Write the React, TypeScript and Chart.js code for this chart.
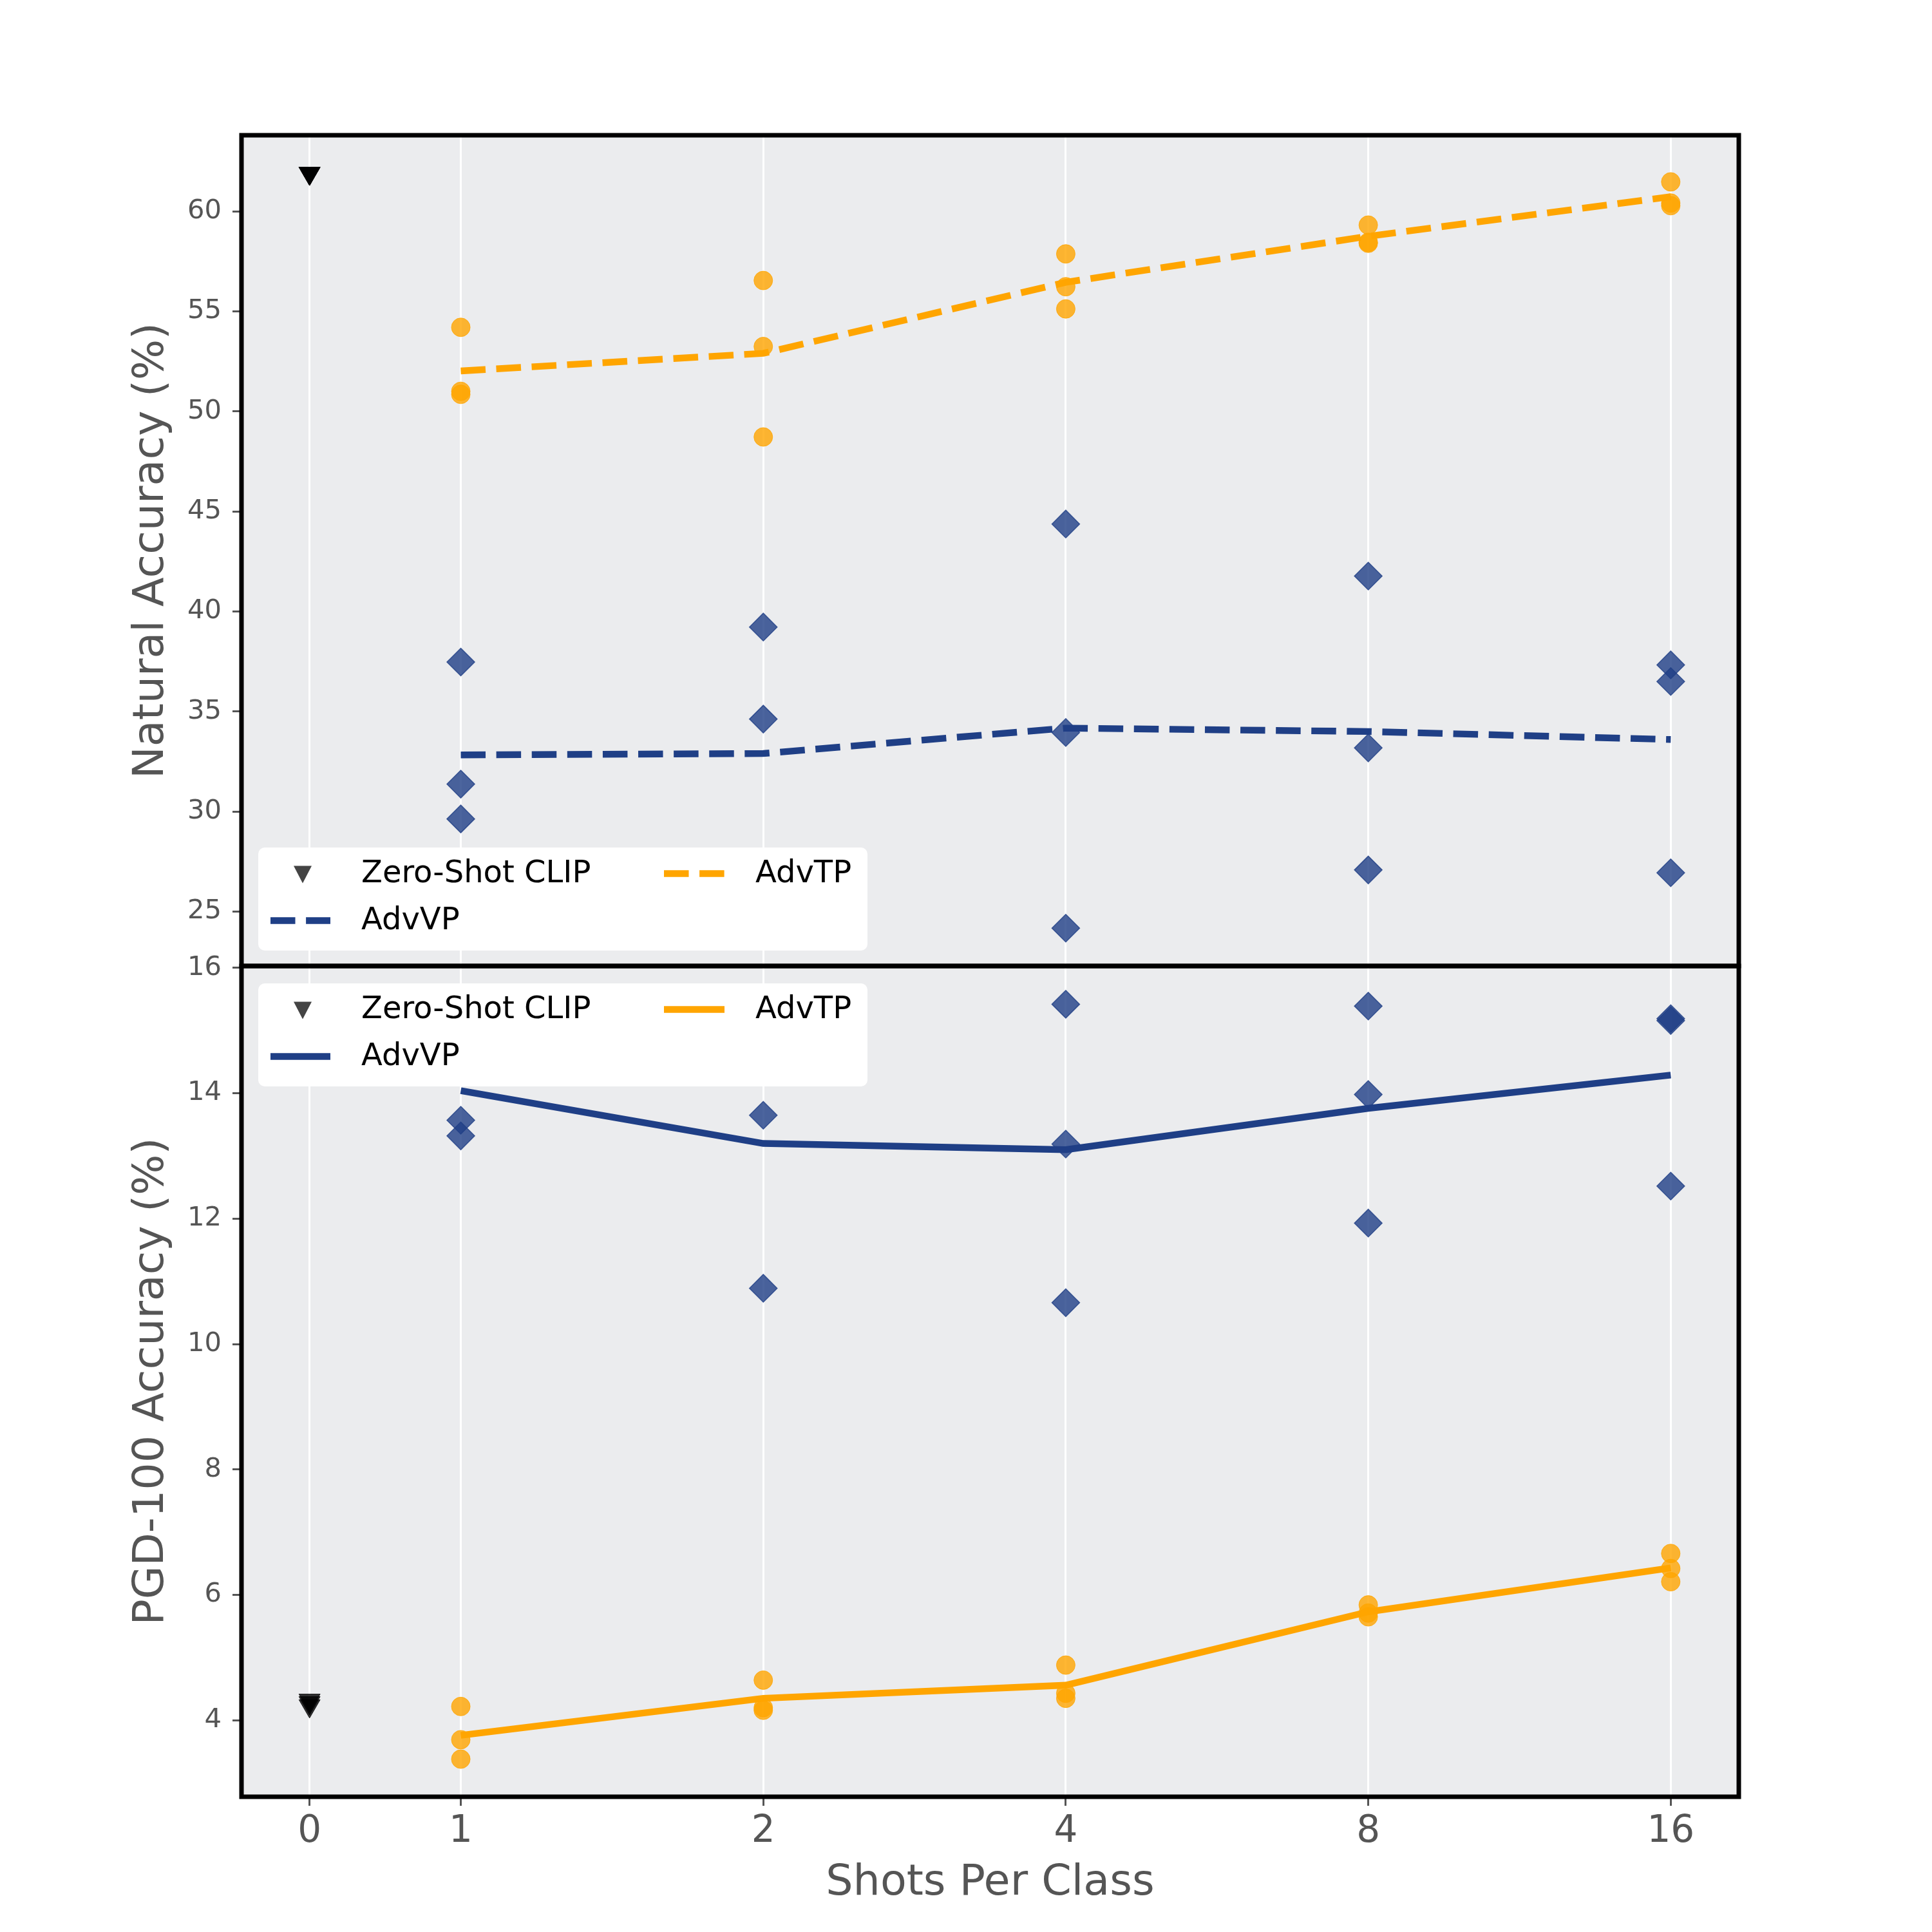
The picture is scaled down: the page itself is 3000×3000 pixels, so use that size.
import { useEffect, useRef } from "react";
import { Chart, registerables } from "chart.js";

Chart.register(...registerables);

// x axis: shots per class (0 = zero-shot baseline)
const shots = [0, 1, 2, 4, 8, 16];
const fewShots = [1, 2, 4, 8, 16];
const xTickLabels = ["0", "1", "2", "4", "8", "16"];
const naturalTicks = [25, 30, 35, 40, 45, 50, 55, 60];
const pgdTicks = [4, 6, 8, 10, 12, 14, 16];

// Natural accuracy (top panel), three runs per shot setting
const zeroShotNatural = [61.9, 61.9, 61.9];
const advVPNatural = [
    [37.47, 31.37, 29.63],
    [39.22, 34.62, 24.86],
    [44.37, 33.95, 24.17],
    [41.77, 33.18, 27.08],
    [37.33, 36.5, 26.94],
];
const advTPNatural = [
    [54.2, 51.0, 50.85],
    [56.54, 53.24, 48.72],
    [57.87, 56.23, 55.12],
    [59.31, 58.45, 58.4],
    [61.47, 60.41, 60.28],
];
const advVPNaturalMean = [32.83, 32.9, 34.17, 34.0, 33.6];
const advTPNaturalMean = [52.02, 52.9, 56.45, 58.75, 60.73];

// PGD-100 accuracy (bottom panel)
const zeroShotPGD = [4.32, 4.28, 4.23];
const advVPPGD = [
    [15.23, 13.57, 13.32],
    [15.06, 13.65, 10.89],
    [15.42, 13.19, 10.66],
    [15.39, 13.98, 11.93],
    [15.19, 15.16, 12.52],
];
const advTPPGD = [
    [4.22, 3.69, 3.38],
    [4.64, 4.2, 4.16],
    [4.88, 4.43, 4.35],
    [5.84, 5.71, 5.65],
    [6.66, 6.42, 6.21],
];
const advVPPGDMean = [14.04, 13.2, 13.1, 13.76, 14.29];
const advTPPGDMean = [3.76, 4.35, 4.56, 5.73, 6.43];

const FONT = "'DejaVu Sans', sans-serif";
const ORANGE = "#FFA500";
const NAVY = "#1f3f86";
const GRAY = "#555555";

// 0 shots sits half a step left of 1 shot, then log2 spacing
const xPos = (s: number) => (s === 0 ? 0.5 : Math.log2(s) + 1);

const runsToPoints = (runs: number[][]) =>
    fewShots.flatMap((s, i) => runs[i].map((v) => ({ x: xPos(s), y: v })));
const meanToPoints = (vals: number[]) => fewShots.map((s, i) => ({ x: xPos(s), y: vals[i] }));
const zeroToPoints = (vals: number[]) => vals.map((v) => ({ x: xPos(0), y: v }));

const lineSet = (data: any, color: string, axis: string, dashed: boolean) => ({
    data,
    yAxisID: axis,
    showLine: true,
    borderColor: color,
    backgroundColor: color,
    borderWidth: 10.4,
    borderDash: dashed ? [38.5, 16.6] : [],
    borderCapStyle: "butt",
    pointRadius: 0,
    order: 2,
});

const circleSet = (data: any, axis: string) => ({
    data,
    yAxisID: axis,
    pointStyle: "circle",
    pointRadius: 14.5,
    pointBorderWidth: 1,
    backgroundColor: "rgba(255,165,0,0.8)",
    borderColor: "rgba(255,165,0,0.8)",
    order: 1,
});

const diamondSet = (data: any, axis: string) => ({
    data,
    yAxisID: axis,
    pointStyle: "rectRot",
    pointRadius: 21.5,
    pointBorderWidth: 1.5,
    backgroundColor: "rgba(31,63,134,0.8)",
    borderColor: "rgba(31,63,134,0.8)",
    order: 1,
});

const triangleSet = (data: any, axis: string) => ({
    data,
    yAxisID: axis,
    pointStyle: "triangle",
    rotation: 180,
    pointRadius: 19,
    pointBorderWidth: 1,
    backgroundColor: "rgba(0,0,0,0.8)",
    borderColor: "rgba(0,0,0,0.8)",
    order: 1,
});

function drawLegend(ctx: CanvasRenderingContext2D, left: number, top: number, dashed: boolean) {
    const w = 946;
    const h = 160;
    ctx.save();
    ctx.fillStyle = "#ffffff";
    ctx.beginPath();
    ctx.roundRect(left, top, w, h, 10);
    ctx.fill();

    const r1 = top + 40.5;
    const r2 = top + 113.5;

    // Zero-Shot CLIP marker
    const tx = left + 69;
    ctx.fillStyle = "#444444";
    ctx.beginPath();
    ctx.moveTo(tx - 14, r1 - 12);
    ctx.lineTo(tx + 14, r1 - 12);
    ctx.lineTo(tx, r1 + 15);
    ctx.closePath();
    ctx.fill();

    ctx.lineWidth = 10.4;
    ctx.lineCap = "butt";
    ctx.setLineDash(dashed ? [38.5, 16.6] : []);
    // AdvTP handle
    ctx.strokeStyle = ORANGE;
    ctx.beginPath();
    ctx.moveTo(left + 630, r1);
    ctx.lineTo(left + 724, r1);
    ctx.stroke();
    // AdvVP handle
    ctx.strokeStyle = NAVY;
    ctx.beginPath();
    ctx.moveTo(left + 19, r2);
    ctx.lineTo(left + 112, r2);
    ctx.stroke();
    ctx.setLineDash([]);

    ctx.fillStyle = "#000000";
    ctx.font = `48px ${FONT}`;
    ctx.textBaseline = "middle";
    ctx.textAlign = "left";
    ctx.fillText("Zero-Shot CLIP", left + 160, r1 + 1);
    ctx.fillText("AdvTP", left + 772, r1 + 1);
    ctx.fillText("AdvVP", left + 160, r2 + 1);
    ctx.restore();
}

const panelPlugin = {
    id: "panels",
    beforeDraw(chart: any) {
        const { ctx, chartArea } = chart;
        ctx.save();
        ctx.fillStyle = "#ffffff";
        ctx.fillRect(0, 0, chart.width, chart.height);
        ctx.fillStyle = "#ebecee";
        ctx.fillRect(chartArea.left, chartArea.top, chartArea.right - chartArea.left, chartArea.bottom - chartArea.top);
        ctx.restore();
    },
    afterDraw(chart: any) {
        const { ctx, chartArea } = chart;
        const hi = chart.scales.yHigh;
        const lo = chart.scales.yLow;
        ctx.save();
        ctx.strokeStyle = "#000000";
        ctx.lineWidth = 7;
        ctx.strokeRect(chartArea.left, hi.top, chartArea.right - chartArea.left, hi.bottom - hi.top);
        ctx.strokeRect(chartArea.left, lo.top, chartArea.right - chartArea.left, lo.bottom - lo.top);
        ctx.restore();
        drawLegend(ctx, chartArea.left + 26, hi.bottom - 24 - 160, true);
        drawLegend(ctx, chartArea.left + 26, lo.top + 27, false);
    },
};

const yScale = (min: number, max: number, ticks: number[], title: string) => ({
    type: "linear",
    position: "left",
    stack: "panels",
    stackWeight: 1,
    min,
    max,
    afterBuildTicks: (s: any) => {
        s.ticks = ticks.map((v) => ({ value: v }));
    },
    afterFit: (s: any) => {
        s.width = 375;
    },
    ticks: { font: { family: FONT, size: 41.7 }, color: GRAY, padding: 17 },
    grid: { drawOnChartArea: false, tickLength: 14, tickColor: GRAY, tickWidth: 3 },
    border: { display: false },
    title: {
        display: true,
        text: title,
        color: GRAY,
        font: { family: FONT, size: 66.7 },
        padding: { top: 196, bottom: 0 },
    },
});

export default function App() {
    const chartRef = useRef<HTMLCanvasElement | null>(null);

    useEffect(() => {
        if (!chartRef.current) return;
        const ctx = chartRef.current.getContext("2d");
        if (!ctx) return;

        const myChart = new Chart(ctx, {
            type: "scatter",
            data: {
                datasets: [
                    lineSet(meanToPoints(advTPNaturalMean), ORANGE, "yHigh", true),
                    lineSet(meanToPoints(advVPNaturalMean), NAVY, "yHigh", true),
                    lineSet(meanToPoints(advTPPGDMean), ORANGE, "yLow", false),
                    lineSet(meanToPoints(advVPPGDMean), NAVY, "yLow", false),
                    circleSet(runsToPoints(advTPNatural), "yHigh"),
                    diamondSet(runsToPoints(advVPNatural), "yHigh"),
                    triangleSet(zeroToPoints(zeroShotNatural), "yHigh"),
                    circleSet(runsToPoints(advTPPGD), "yLow"),
                    diamondSet(runsToPoints(advVPPGD), "yLow"),
                    triangleSet(zeroToPoints(zeroShotPGD), "yLow"),
                ] as any,
            },
            options: {
                animation: false,
                responsive: false,
                devicePixelRatio: 1,
                layout: { padding: { left: 0, right: 300, top: 210, bottom: 0 } },
                plugins: { legend: { display: false }, tooltip: { enabled: false } },
                scales: {
                    x: {
                        type: "linear",
                        min: 0.275,
                        max: 5.225,
                        afterBuildTicks: (s: any) => {
                            s.ticks = shots.map((v) => ({ value: xPos(v) }));
                        },
                        afterFit: (s: any) => {
                            s.height = 210;
                        },
                        ticks: {
                            autoSkip: false,
                            maxRotation: 0,
                            callback: (_v: any, i: number) => xTickLabels[i],
                            font: { family: FONT, size: 58 },
                            color: GRAY,
                            padding: 6,
                        },
                        grid: { color: "#ffffff", lineWidth: 3, tickColor: GRAY, tickLength: 14, tickWidth: 3 },
                        border: { display: false },
                        title: {
                            display: true,
                            text: "Shots Per Class",
                            color: GRAY,
                            font: { family: FONT, size: 66.7 },
                            padding: { top: 0, bottom: 35 },
                        },
                    },
                    yLow: yScale(2.78, 16.03, pgdTicks, "PGD-100 Accuracy (%)"),
                    yHigh: yScale(22.28, 63.8, naturalTicks, "Natural Accuracy (%)"),
                } as any,
            },
            plugins: [panelPlugin],
        });

        return () => {
            myChart.destroy();
        };
    }, []);

    return (
        <div style={{ position: "absolute", left: 0, top: 0, width: 3000, height: 3000, background: "#ffffff" }}>
            <canvas ref={chartRef} width={3000} height={3000} style={{ display: "block" }}></canvas>
        </div>
    );
}
